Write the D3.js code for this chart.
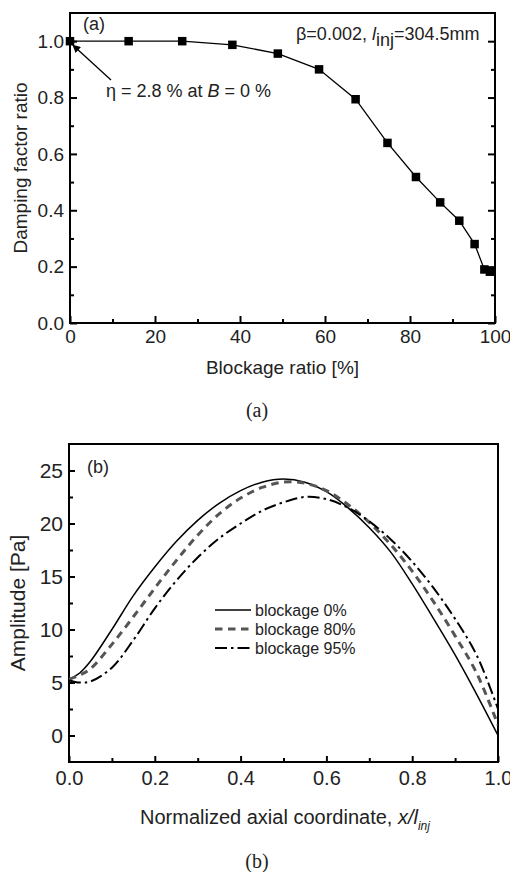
<!DOCTYPE html>
<html>
<head>
<meta charset="utf-8">
<script src="https://cdn.jsdelivr.net/npm/d3@7"></script>
<style>
  html, body { margin: 0; padding: 0; background: #fff; }
  svg { display: block; }
  text { font-family: "Liberation Sans", Arial, sans-serif; fill: #222; }
  .serif { font-family: "Liberation Serif", "Times New Roman", serif; }
</style>
</head>
<body>
<svg id="fig" width="510" height="872"></svg>
<script>
// ---- Panel (a): damping factor ratio vs blockage ratio ----
const blockage = [0, 13.8, 26.4, 38.2, 48.9, 58.6, 67.2, 74.7, 81.4, 87.1, 91.6, 95.2, 97.5, 98.8];
const dampingRatio = [1.0, 1.0, 1.0, 0.987, 0.956, 0.900, 0.794, 0.639, 0.518, 0.428, 0.363, 0.280, 0.190, 0.182];
const xTicksA = [0, 20, 40, 60, 80, 100];
const yTicksA = [0.0, 0.2, 0.4, 0.6, 0.8, 1.0];

// ---- Panel (b): amplitude along the injector ----
const xPos = [0, 0.025, 0.05, 0.1, 0.15, 0.2, 0.25, 0.3, 0.35, 0.4, 0.45, 0.5, 0.55, 0.6, 0.65, 0.7, 0.75, 0.8, 0.85, 0.9, 0.95, 1.0];
const amp0  = [5.3, 5.9, 7.0, 10.0, 13.2, 15.9, 18.3, 20.3, 21.9, 23.1, 23.9, 24.2, 23.9, 23.0, 21.5, 19.6, 17.3, 14.3, 11.0, 7.6, 3.9, 0.0];
const amp80 = [5.3, 5.7, 6.3, 8.6, 11.2, 13.9, 16.5, 18.9, 20.9, 22.4, 23.4, 23.9, 23.8, 23.1, 21.8, 20.1, 18.0, 15.5, 12.6, 9.4, 5.9, 1.0];
const amp95 = [5.2, 5.0, 5.1, 6.4, 9.0, 12.0, 14.6, 16.8, 18.6, 20.0, 21.2, 22.0, 22.5, 22.3, 21.5, 20.2, 18.5, 16.4, 13.9, 11.0, 7.6, 2.5];
const seriesNames = ["blockage 0%", "blockage 80%", "blockage 95%"];
const xTicksB = [0, 0.2, 0.4, 0.6, 0.8, 1.0];
const yTicksB = [0, 5, 10, 15, 20, 25];

const svg = d3.select("#fig");

function frame(g, x, y) {
  g.append("rect")
    .attr("x", x.range()[0]).attr("y", y.range()[1])
    .attr("width", x.range()[1] - x.range()[0])
    .attr("height", y.range()[0] - y.range()[1])
    .attr("fill", "none").attr("stroke", "#000").attr("stroke-width", 2);
}

function styleAxis(sel, fontSize) {
  sel.select(".domain").remove();
  sel.selectAll(".tick line").attr("stroke", "#000").attr("stroke-width", 2);
  sel.selectAll(".tick text").attr("fill", "#222").style("font-size", fontSize + "px")
    .style("font-family", "'Liberation Sans', Arial, sans-serif");
}

// ================= Panel (a) =================
{
  const x = d3.scaleLinear().domain([0, 100]).range([70, 495]);
  const y = d3.scaleLinear().domain([0, 1.1]).range([323, 13]);
  const g = svg.append("g");
  const fs = 19;

  // minor ticks
  g.append("g").attr("transform", `translate(0,${y(0)})`)
    .call(d3.axisBottom(x).tickValues(d3.range(10, 100, 20)).tickSize(-4).tickFormat(""))
    .call(s => styleAxis(s, fs));
  g.append("g").attr("transform", `translate(${x(0)},0)`)
    .call(d3.axisLeft(y).tickValues(d3.range(0.1, 1.05, 0.2)).tickSize(-4).tickFormat(""))
    .call(s => styleAxis(s, fs));
  g.append("g").attr("transform", `translate(${x(100)},0)`)
    .call(d3.axisRight(y).tickValues(d3.range(0.1, 1.05, 0.2)).tickSize(-4).tickFormat(""))
    .call(s => styleAxis(s, fs));

  // major ticks
  g.append("g").attr("transform", `translate(0,${y(0)})`)
    .call(d3.axisBottom(x).tickValues(xTicksA).tickSizeInner(-7).tickSizeOuter(0).tickPadding(7).tickFormat(d3.format("d")))
    .call(s => styleAxis(s, fs));
  g.append("g").attr("transform", `translate(${x(0)},0)`)
    .call(d3.axisLeft(y).tickValues(yTicksA).tickSizeInner(-7).tickSizeOuter(0).tickPadding(6).tickFormat(d3.format(".1f")))
    .call(s => styleAxis(s, fs));
  g.append("g").attr("transform", `translate(${x(100)},0)`)
    .call(d3.axisRight(y).tickValues(yTicksA).tickSizeInner(-7).tickSizeOuter(0).tickFormat(""))
    .call(s => styleAxis(s, fs));

  frame(g, x, y);

  const pts = blockage.map((b, i) => [b, dampingRatio[i]]);
  g.append("path").datum(pts)
    .attr("fill", "none").attr("stroke", "#000").attr("stroke-width", 1.3)
    .attr("d", d3.line().x(d => x(d[0])).y(d => y(d[1])));
  const ms = 8.5;
  g.selectAll("rect.pt").data(pts).join("rect").attr("class", "pt")
    .attr("x", d => x(d[0]) - ms / 2).attr("y", d => y(d[1]) - ms / 2)
    .attr("width", ms).attr("height", ms).attr("fill", "#000");

  // annotations
  g.append("text").attr("x", 83).attr("y", 30).style("font-size", "18px").text("(a)");

  const t = g.append("text").attr("x", 296).attr("y", 40).style("font-size", "18px");
  t.append("tspan").text("\u03B2=0.002, ");
  t.append("tspan").style("font-style", "italic").text("l");
  t.append("tspan").attr("dy", 6).style("font-size", "18px").text("inj");
  t.append("tspan").attr("dy", -6).text("=304.5mm");

  const ann = g.append("text").attr("x", 106).attr("y", 97).style("font-size", "18px");
  ann.append("tspan").text("\u03B7 = 2.8 % at ");
  ann.append("tspan").style("font-style", "italic").text("B");
  ann.append("tspan").text(" = 0 %");

  svg.append("defs").append("marker")
    .attr("id", "arrowhead").attr("viewBox", "0 0 10 10")
    .attr("refX", 9).attr("refY", 5)
    .attr("markerWidth", 8).attr("markerHeight", 8)
    .attr("markerUnits", "userSpaceOnUse")
    .attr("orient", "auto")
    .append("path").attr("d", "M0,0 L10,5 L0,10 z").attr("fill", "#000");
  g.append("line")
    .attr("x1", 111).attr("y1", 80).attr("x2", x(0) + 3).attr("y2", y(1.0) + 4)
    .attr("stroke", "#000").attr("stroke-width", 1.3)
    .attr("marker-end", "url(#arrowhead)");

  g.append("text").attr("x", (x(0) + x(100)) / 2).attr("y", 374)
    .attr("text-anchor", "middle").style("font-size", fs + "px").text("Blockage ratio [%]");
  g.append("text").attr("transform", `translate(27,${(y(0) + y(1.1)) / 2}) rotate(-90)`)
    .attr("text-anchor", "middle").style("font-size", fs + "px").text("Damping factor ratio");

  svg.append("text").attr("class", "serif").attr("x", 257).attr("y", 417)
    .attr("text-anchor", "middle").style("font-size", "20px").text("(a)");
}

// ================= Panel (b) =================
{
  const x = d3.scaleLinear().domain([0, 1]).range([69, 498]);
  const y = d3.scaleLinear().domain([-2.5, 27.5]).range([762, 444]);
  const g = svg.append("g");
  const fs = 20;

  g.append("g").attr("transform", `translate(0,${y(-2.5)})`)
    .call(d3.axisBottom(x).tickValues(d3.range(0.1, 1.0, 0.2)).tickSize(-4).tickFormat(""))
    .call(s => styleAxis(s, fs));
  g.append("g").attr("transform", `translate(${x(0)},0)`)
    .call(d3.axisLeft(y).tickValues([2.5, 7.5, 12.5, 17.5, 22.5]).tickSize(-4).tickFormat(""))
    .call(s => styleAxis(s, fs));

  g.append("g").attr("transform", `translate(0,${y(-2.5)})`)
    .call(d3.axisBottom(x).tickValues(xTicksB).tickSizeInner(-6).tickSizeOuter(0).tickPadding(9).tickFormat(d3.format(".1f")))
    .call(s => styleAxis(s, fs));
  g.append("g").attr("transform", `translate(${x(0)},0)`)
    .call(d3.axisLeft(y).tickValues(yTicksB).tickSizeInner(-6).tickSizeOuter(0).tickPadding(6).tickFormat(d3.format("d")))
    .call(s => styleAxis(s, fs + 1));

  frame(g, x, y);

  svg.select("defs").append("clipPath").attr("id", "clipB")
    .append("rect").attr("x", 69).attr("y", 444).attr("width", 429).attr("height", 318);

  const line = d3.line().x(d => x(d[0])).y(d => y(d[1])).curve(d3.curveCatmullRom.alpha(0.5));
  const styles = [
    { stroke: "#000", width: 1.5, dash: null },
    { stroke: "#555", width: 3, dash: "7.5,5.5" },
    { stroke: "#000", width: 2, dash: "12,4,2.5,4" }
  ];
  const series = [amp0, amp80, amp95];
  const plot = g.append("g").attr("clip-path", "url(#clipB)");
  series.forEach((vals, i) => {
    plot.append("path").datum(xPos.map((xv, j) => [xv, vals[j]]))
      .attr("fill", "none").attr("stroke", styles[i].stroke)
      .attr("stroke-width", styles[i].width)
      .attr("stroke-dasharray", styles[i].dash)
      .attr("d", line);
  });

  // legend
  const rows = [610, 629, 648];
  seriesNames.forEach((name, i) => {
    g.append("line").attr("x1", 215).attr("x2", 251).attr("y1", rows[i]).attr("y2", rows[i])
      .attr("stroke", styles[i].stroke).attr("stroke-width", styles[i].width)
      .attr("stroke-dasharray", styles[i].dash);
    g.append("text").attr("x", 255).attr("y", rows[i] + 6).style("font-size", "16px").text(name);
  });

  g.append("text").attr("x", 87).attr("y", 473).style("font-size", "18px").text("(b)");

  const xl = g.append("text").attr("x", 285).attr("y", 824).attr("text-anchor", "middle").style("font-size", fs + "px");
  xl.append("tspan").text("Normalized axial coordinate, ");
  xl.append("tspan").style("font-style", "italic").text("x/l");
  xl.append("tspan").attr("dy", 6).style("font-size", "12px").style("font-style", "italic").text("inj");

  g.append("text").attr("transform", `translate(25,${(y(-2.5) + y(27.5)) / 2}) rotate(-90)`)
    .attr("text-anchor", "middle").style("font-size", "21px").text("Amplitude [Pa]");

  svg.append("text").attr("class", "serif").attr("x", 257).attr("y", 868)
    .attr("text-anchor", "middle").style("font-size", "20px").text("(b)");
}
</script>
</body>
</html>
